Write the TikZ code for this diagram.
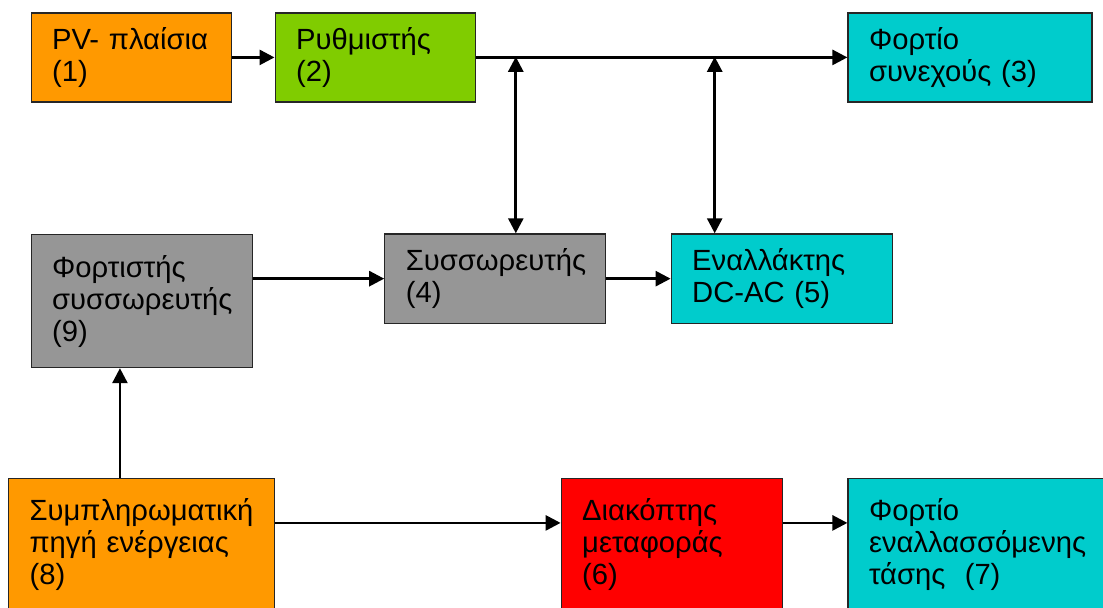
\documentclass[tikz,border=0pt]{standalone}
\usepackage{fontspec}
\setmainfont{Liberation Sans}
\usetikzlibrary{arrows.meta, positioning}

\definecolor{pvorange}{HTML}{FF9900}
\definecolor{reggreen}{HTML}{80CC00}
\definecolor{loadcyan}{HTML}{00CCCC}
\definecolor{batgray}{HTML}{969696}
\definecolor{swred}{HTML}{FF0000}

\begin{document}
\begin{tikzpicture}[
    x=0.5pt, y=-0.5pt,
    block/.style={draw=black!85, line width=0.6pt, anchor=north west, align=left,
        inner xsep=10.5pt, inner ysep=0pt, font=\fontsize{14.6}{16}\selectfont},
    flow/.style={-{Triangle[length=7.5pt, width=7.5pt]}, line width=1.35pt},
    bothflow/.style={{Triangle[length=7.5pt, width=7.5pt]}-{Triangle[length=7.5pt, width=7.5pt]}, line width=1.35pt}
]
    \useasboundingbox (0,0) rectangle (1103,607);
    \clip (0,0) rectangle (1103,607);

    % Top row
    \node[block, fill=pvorange, text width=79pt, minimum height=44.5pt] (pv) at (30.5,12.3) {PV-~πλαίσια\\(1)};
    \node[block, fill=reggreen, text width=79pt, minimum height=44.5pt, right=21.4pt of pv] (reg) {Ρυθμιστής\\(2)};
    \node[block, fill=loadcyan, text width=101pt, minimum height=44.5pt] (dcl) at (847.4,12.3) {Φορτίο\\συνεχούς (3)};

    % Middle row
    \node[block, fill=batgray, text width=89.5pt, minimum height=66.5pt] (chg) at (30.5,234) {Φορτιστής\\συσσωρευτής\\(9)};
    \node[block, fill=batgray, text width=89.5pt, minimum height=44.75pt] (bat) at (384.2,233.3) {Συσσωρευτής\\(4)};
    \node[block, fill=loadcyan, text width=89.8pt, minimum height=44.75pt] (inv) at (670.6,233.3) {Εναλλάκτης\\DC-AC (5)};

    % Bottom row
    \node[block, fill=pvorange, text width=111.85pt, minimum height=66.5pt] (aux) at (8,477.7) {Συμπληρωματική\\πηγή ενέργειας\\(8)};
    \node[block, fill=swred, text width=89.5pt, minimum height=66.5pt] (sw) at (560.6,477.7) {Διακόπτης\\μεταφοράς\\(6)};
    \node[block, fill=loadcyan, text width=119pt, minimum height=66.5pt] (acl) at (847.4,477.7) {Φορτίο\\εναλλασσόμενης\\τάσης~~(7)};

    % DC bus taps
    \coordinate (tap1) at (515.8,56.8);
    \coordinate (tap2) at (714.7,56.8);

    % Connections
    \draw[flow] (pv) -- (reg);
    \draw[flow] (reg) -- (dcl);
    \draw[bothflow] (tap1) -- (tap1 |- bat.north);
    \draw[bothflow] (tap2) -- (tap2 |- inv.north);
    \draw[flow] (chg.east |- bat.west) -- (bat.west);
    \draw[flow] (bat) -- (inv);
    \draw[flow] ([xshift=-10.75pt]aux.north) -- ([xshift=-10.75pt]aux.north |- chg.south);
    \draw[flow] ([yshift=10.95pt]aux.east) -- ([yshift=10.95pt]sw.west);
    \draw[flow] ([yshift=10.95pt]sw.east) -- ([yshift=10.95pt]acl.west);
\end{tikzpicture}
\end{document}
